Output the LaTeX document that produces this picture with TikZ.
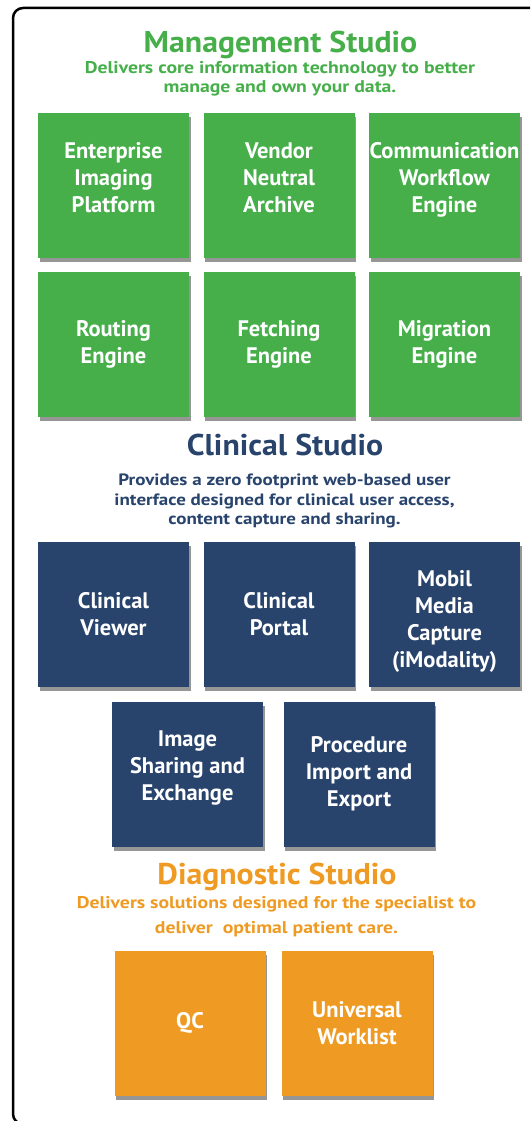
\documentclass[tikz,border=0pt]{standalone}
\usepackage{fontspec}
\setmainfont{PT Sans}
\newfontfamily\titleFont{PT Sans}[FakeStretch=1.06]
\newfontfamily\blurbFont{PT Sans}[FakeStretch=1.16]
\usepackage{xcolor}
\usepackage{tikz}
\usetikzlibrary{calc}
\usetikzlibrary{shadows}

\definecolor{mgmtGreen}{RGB}{70,175,74}
\definecolor{clinBlue}{RGB}{40,67,108}
\definecolor{diagOrange}{RGB}{238,154,35}

\tikzset{
  studioBox/.style={minimum width=151pt, minimum height=145pt, inner sep=0pt,
    align=center, text=white, font=\bfseries\fontsize{22.5}{27}\selectfont,
    drop shadow={shadow xshift=1.5pt, shadow yshift=-4pt, opacity=0.55, fill=black!75}},
  greenBox/.style={studioBox, fill=mgmtGreen},
  blueBox/.style={studioBox, fill=clinBlue},
  orangeBox/.style={studioBox, fill=diagOrange},
  liftText/.style={text depth=16pt},
  dropText/.style={text height=111pt},
  studioTitle/.style={font=\titleFont\bfseries\fontsize{30}{34}\selectfont, anchor=base, inner sep=0pt},
  studioText/.style={font=\blurbFont\bfseries\fontsize{17}{19.5}\selectfont, align=center, inner sep=0pt},
}

\begin{document}
\begin{tikzpicture}[x=1pt, y=-1pt]

\useasboundingbox (0,0) rectangle (530,1121);

% outer frame, runs past the right and bottom edges
\begin{scope}
\clip (0,0) rectangle (530,1121);
\draw [line width=2.5pt, rounded corners=10pt] (13,8) rectangle (560,1124);
\end{scope}

\pgfmathsetmacro{\colA}{113.5}%
\pgfmathsetmacro{\colB}{279}%
\pgfmathsetmacro{\colC}{444.5}%

% Management Studio
\node[studioTitle, text=mgmtGreen] (mgmtTitle) at (280.5,53) {Management Studio};
\node[studioText, text=mgmtGreen] (mgmtText) at (280,79)
  {Delivers core information technology to better\\manage and own your data.};

\node[greenBox, liftText] (eip) at (\colA,185.5) {Enterprise\\Imaging\\Platform};
\node[greenBox, liftText] (vna) at (\colB,185.5) {Vendor\\Neutral\\Archive};
\node[greenBox, liftText] (cwe) at (\colC,185.5) {Communication\\Workflow\\Engine};
\node[greenBox] (routing) at (\colA,344) {Routing\\Engine};
\node[greenBox] (fetching) at (\colB,344) {Fetching\\Engine};
\node[greenBox] (migration) at (\colC,344) {Migration\\Engine};

% Clinical Studio
\node[studioTitle, text=clinBlue] (clinTitle) at (285,455) {Clinical Studio};
\node[studioText, text=clinBlue, font=\blurbFont\bfseries\fontsize{16.4}{19.5}\selectfont] (clinText) at (284.5,501)
  {Provides a zero footprint web-based user\\interface designed for clinical user access,\\content capture and sharing.};

\node[blueBox] (viewer) at (\colA,614) {Clinical\\Viewer};
\node[blueBox] (portal) at (\colB,614) {Clinical\\Portal};
\node[blueBox, dropText] (mobil) at (\colC,614) {Mobil\\Media\\Capture\\(iModality)};
\node[blueBox, liftText] (sharing) at (187.5,774) {Image\\Sharing and\\Exchange};
\node[blueBox] (procedure) at (359,774) {Procedure\\Import and\\Export};

% Diagnostic Studio
\node[studioTitle, text=diagOrange] (diagTitle) at (277,884) {Diagnostic Studio};
\node[studioText, text=diagOrange, font=\blurbFont\bfseries\fontsize{17}{25}\selectfont] (diagText) at (276.5,917)
  {Delivers solutions designed for the specialist to\\deliver\ \ optimal patient care.};

\node[orangeBox] (qc) at (190,1023) {QC};
\node[orangeBox] (worklist) at (357,1023) {Universal\\Worklist};

\end{tikzpicture}
\end{document}
